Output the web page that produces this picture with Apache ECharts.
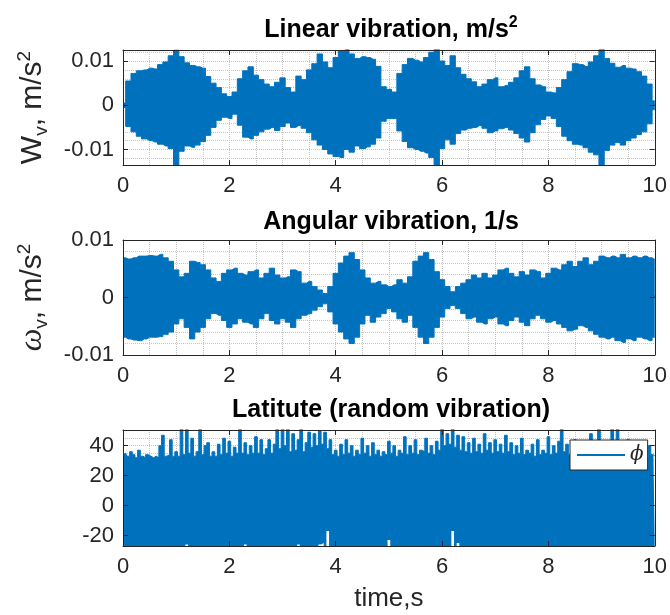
<!DOCTYPE html>
<html><head><meta charset="utf-8">
<script src="https://cdn.jsdelivr.net/npm/echarts@6/dist/echarts.min.js"></script>
<style>html,body{margin:0;padding:0;background:#fff}#c{width:670px;height:615px}</style>
</head><body><div id="c"></div>
<script>
// ---------- data (envelopes) ----------
// Linear vibration, sampled every 0.1 s from 0 to 10 s
const linUpper = [0.0005,0.0055,0.0072,0.0078,0.0080,0.0084,0.0082,0.0092,0.0098,0.0112,
  0.0125,0.0110,0.0096,0.0090,0.0087,0.0084,0.0065,0.0050,0.0040,0.0026,
  0.0020,0.0030,0.0060,0.0078,0.0087,0.0068,0.0058,0.0048,0.0042,0.0052,
  0.0062,0.0040,0.0030,0.0066,0.0058,0.0080,0.0094,0.0116,0.0098,0.0085,
  0.0108,0.0124,0.0126,0.0116,0.0106,0.0110,0.0108,0.0104,0.0088,0.0042,
  0.0036,0.0030,0.0072,0.0092,0.0106,0.0102,0.0098,0.0108,0.0120,0.0126,
  0.0100,0.0090,0.0112,0.0085,0.0070,0.0060,0.0053,0.0042,0.0048,0.0058,
  0.0062,0.0042,0.0045,0.0052,0.0062,0.0078,0.0087,0.0060,0.0046,0.0042,
  0.0030,0.0028,0.0040,0.0058,0.0076,0.0094,0.0092,0.0088,0.0098,0.0112,
  0.0126,0.0106,0.0095,0.0086,0.0090,0.0084,0.0082,0.0076,0.0066,0.0048,0.0010];
const linLower = [-0.0005,-0.0048,-0.0060,-0.0070,-0.0076,-0.0080,-0.0083,-0.0088,-0.0092,-0.0098,
  -0.0136,-0.0104,-0.0092,-0.0095,-0.0090,-0.0082,-0.0068,-0.0050,-0.0034,-0.0027,
  -0.0030,-0.0020,-0.0045,-0.0072,-0.0076,-0.0068,-0.0060,-0.0054,-0.0050,-0.0057,
  -0.0048,-0.0040,-0.0050,-0.0046,-0.0052,-0.0062,-0.0078,-0.0090,-0.0100,-0.0110,
  -0.0116,-0.0118,-0.0100,-0.0106,-0.0092,-0.0098,-0.0094,-0.0088,-0.0074,-0.0036,
  -0.0030,-0.0030,-0.0058,-0.0082,-0.0096,-0.0100,-0.0104,-0.0108,-0.0118,-0.0136,
  -0.0098,-0.0078,-0.0088,-0.0064,-0.0056,-0.0052,-0.0050,-0.0046,-0.0052,-0.0062,
  -0.0058,-0.0053,-0.0050,-0.0056,-0.0064,-0.0074,-0.0083,-0.0062,-0.0044,-0.0032,
  -0.0024,-0.0030,-0.0048,-0.0070,-0.0080,-0.0088,-0.0090,-0.0096,-0.0106,-0.0112,
  -0.0136,-0.0102,-0.0090,-0.0084,-0.0090,-0.0080,-0.0074,-0.0066,-0.0060,-0.0042,-0.0010];
// Angular vibration, sampled every 0.1 s
const angUpper = [0.0069,0.0067,0.0069,0.0072,0.0072,0.0073,0.0072,0.0075,0.0069,0.0063,
  0.0048,0.0036,0.0042,0.0063,0.0061,0.0057,0.0048,0.0034,0.0028,0.0042,
  0.0048,0.0051,0.0042,0.0039,0.0045,0.0048,0.0034,0.0042,0.0051,0.0039,
  0.0034,0.0036,0.0048,0.0045,0.0025,0.0028,0.0019,0.0013,0.0007,0.0019,
  0.0042,0.0060,0.0072,0.0078,0.0066,0.0048,0.0034,0.0025,0.0028,0.0022,
  0.0019,0.0022,0.0031,0.0025,0.0036,0.0063,0.0072,0.0078,0.0066,0.0045,
  0.0031,0.0019,0.0010,0.0019,0.0025,0.0031,0.0039,0.0034,0.0042,0.0034,
  0.0039,0.0048,0.0051,0.0042,0.0036,0.0045,0.0039,0.0048,0.0045,0.0034,
  0.0042,0.0051,0.0048,0.0057,0.0063,0.0054,0.0063,0.0069,0.0057,0.0063,
  0.0072,0.0069,0.0072,0.0069,0.0075,0.0069,0.0072,0.0069,0.0072,0.0069,0.0066];
const angLower = [-0.0069,-0.0072,-0.0074,-0.0075,-0.0072,-0.0069,-0.0069,-0.0068,-0.0064,-0.0060,
  -0.0046,-0.0037,-0.0052,-0.0072,-0.0060,-0.0052,-0.0037,-0.0028,-0.0031,-0.0040,
  -0.0052,-0.0046,-0.0037,-0.0043,-0.0046,-0.0052,-0.0037,-0.0028,-0.0040,-0.0046,
  -0.0037,-0.0043,-0.0052,-0.0037,-0.0031,-0.0028,-0.0022,-0.0016,-0.0011,-0.0025,
  -0.0046,-0.0060,-0.0072,-0.0080,-0.0069,-0.0046,-0.0031,-0.0043,-0.0034,-0.0028,
  -0.0019,-0.0025,-0.0037,-0.0043,-0.0031,-0.0052,-0.0069,-0.0080,-0.0069,-0.0052,
  -0.0034,-0.0019,-0.0014,-0.0019,-0.0028,-0.0037,-0.0034,-0.0043,-0.0046,-0.0037,
  -0.0034,-0.0046,-0.0049,-0.0040,-0.0034,-0.0043,-0.0049,-0.0037,-0.0031,-0.0037,
  -0.0043,-0.0040,-0.0046,-0.0052,-0.0058,-0.0055,-0.0049,-0.0052,-0.0058,-0.0064,
  -0.0069,-0.0072,-0.0069,-0.0075,-0.0078,-0.0072,-0.0075,-0.0069,-0.0072,-0.0075,-0.0069];
// Latitude (random vibration), sampled every 0.05 s
const latUpper = [34,35,33,36,34,32,37,33,32,34,33,32,33,32,40,47,33,34,44,33,
  36,33,51,34,51,35,45,33,36,51,34,40,42,33,36,33,41,34,45,35,
  43,33,39,35,51,35,42,34,40,35,46,35,44,34,38,44,35,41,51,38,
  51,40,51,36,48,37,44,51,36,42,49,39,48,40,50,41,49,38,44,34,
  37,33,41,34,44,35,40,33,37,34,45,35,40,33,42,34,37,33,36,34,
  43,35,40,33,37,35,46,34,40,35,44,34,37,36,45,35,40,34,43,37,
  51,40,48,41,51,39,47,37,46,36,42,35,45,36,41,35,48,37,42,35,
  44,36,41,35,47,36,42,34,40,35,45,34,37,35,41,33,44,34,37,35,
  46,34,40,35,43,51,36,41,34,37,44,33,36,34,41,35,48,34,40,51,
  35,37,34,42,51,36,51,35,40,33,44,34,36,33,42,33,35,32,40,34,33];
const latLower = [-30,-30,-30,-30,-30,-30,-30,-30,-30,-30,-30,-30,-30,-30,-30,-30,-30,-30,-30,-30,
  -30,-30,-30,-30,-26,-30,-30,-30,-30,-30,-30,-30,-30,-30,-30,-30,-30,-30,-30,-30,
  -30,-30,-30,-30,-30,-30,-26,-30,-30,-30,-30,-30,-30,-30,-30,-30,-30,-30,-30,-30,
  -30,-30,-30,-30,-30,-30,-26,-30,-30,-30,-30,-30,-30,-30,-26,-25,-30,-17,-30,-30,
  -30,-30,-30,-30,-30,-30,-30,-30,-30,-30,-30,-30,-30,-30,-30,-30,-30,-30,-30,-30,
  -23,-30,-30,-30,-30,-30,-30,-30,-30,-30,-30,-30,-30,-30,-30,-30,-30,-30,-30,-30,
  -30,-30,-30,-30,-17,-30,-25,-30,-30,-30,-30,-30,-30,-30,-30,-30,-30,-30,-30,-30,
  -30,-30,-30,-30,-30,-30,-30,-30,-30,-30,-30,-30,-30,-30,-30,-30,-30,-30,-30,-30,
  -30,-30,-30,-30,-30,-30,-30,-30,-30,-30,-30,-30,-30,-30,-30,-30,-30,-30,-30,-30,
  -30,-30,-30,-30,-30,-30,-30,-30,-30,-30,-30,-30,-30,-30,-30,-30,-30,-30,-30,-30,-30];

const xTicks = [0, 2, 4, 6, 8, 10];
const xTickLabels = ['0', '2', '4', '6', '8', '10'];
const yTicks1 = [-0.01, 0, 0.01];
const yTicks2 = [-0.01, 0, 0.01];
const yTicks3 = [-20, 0, 20, 40];
const yGrid1 = [-0.012,-0.010,-0.008,-0.006,-0.004,-0.002,0,0.002,0.004,0.006,0.008,0.010,0.012];
const yGrid2 = [-0.008,-0.006,-0.004,-0.002,0,0.002,0.004,0.006,0.008];
const yGrid3 = [-25,-20,-15,-10,-5,0,5,10,15,20,25,30,35,40,45,50];
const titles = ['{b|Linear vibration, m/s}{sup|2}', '{b|Angular vibration, 1/s}', '{b|Latitute (random vibration)}'];
const legendName = 'ϕ';

// ---------- layout ----------
const BLUE = '#0072BD', INK = '#262626', GRIDC = '#c4c4c4';
const FONT = 'Liberation Sans';
const grids = [
  {left: 123, width: 536, top: 50, height: 115},
  {left: 123, width: 536, top: 240, height: 115},
  {left: 123, width: 536, top: 430, height: 116}
];
const yCfg = [
  {min: -0.0135, max: 0.0125, ticks: yTicks1, grid: yGrid1, seam: 0.0004},
  {min: -0.01, max: 0.01, ticks: yTicks2, grid: yGrid2, seam: 0.0004},
  {min: -27, max: 50.5, ticks: yTicks3, grid: yGrid3, seam: 0}
];
const yNames = [
  '{m|W}{sub|v}{m|, m/s}{sup|2}',
  '{w|ω}{sub|v}{m|, m/s}{sup|2}',
  ''
];
const nameRich = {
  m: {fontFamily: FONT, fontSize: 30, lineHeight: 36, color: INK},
  w: {fontFamily: 'Liberation Serif', fontStyle: 'italic', fontSize: 32, lineHeight: 36, color: INK},
  sub: {fontFamily: FONT, fontSize: 19, lineHeight: 14, verticalAlign: 'bottom', color: INK},
  sup: {fontFamily: FONT, fontSize: 19, lineHeight: 14, verticalAlign: 'top', color: INK}
};

function seq(n, step) { const a = []; for (let i = 0; i < n; i++) a.push(Math.round(i * step * 100) / 100); return a; }
const t1 = seq(linUpper.length, 0.1), t2 = seq(angUpper.length, 0.1), t3 = seq(latUpper.length, 0.05);
const sets = [[t1, linUpper, linLower], [t2, angUpper, angLower], [t3, latUpper, latLower]];

const xAxis = [], yAxis = [], series = [];
const dotted = {type: 'dotted', color: GRIDC, width: 1};
grids.forEach((g, gi) => {
  const xLabel = v => { const k = xTicks.indexOf(v); return k >= 0 ? xTickLabels[k] : ''; };
  xAxis.push({gridIndex: gi, type: 'value', min: 0, max: 10, interval: 2, position: 'bottom', z: 5,
    axisLine: {onZero: false, lineStyle: {color: INK, width: 1}},
    axisTick: {inside: true, length: 5, lineStyle: {color: INK}},
    axisLabel: {fontFamily: FONT, fontSize: 22, color: INK, margin: 10, formatter: xLabel},
    splitLine: {show: false},
    name: gi === 2 ? 'time,s' : '', nameLocation: 'middle', nameGap: 40,
    nameTextStyle: {fontFamily: FONT, fontSize: 26, color: INK}});
  xAxis.push({gridIndex: gi, type: 'value', min: 0, max: 10, interval: 2, position: 'top', z: 5,
    axisLine: {onZero: false, lineStyle: {color: INK, width: 1}},
    axisTick: {inside: true, length: 5, lineStyle: {color: INK}},
    axisLabel: {show: false}, splitLine: {show: false}});
  xAxis.push({gridIndex: gi, type: 'value', min: 0, max: 10, interval: 2, z: 0,
    axisLine: {show: false}, axisTick: {show: false}, axisLabel: {show: false},
    splitLine: {show: true, lineStyle: dotted},
    minorTick: {show: false, splitNumber: 4}, minorSplitLine: {show: true, lineStyle: dotted}});

  const c = yCfg[gi];
  yAxis.push({gridIndex: gi, type: 'value', min: c.min, max: c.max, position: 'left', z: 5,
    axisLine: {onZero: false, lineStyle: {color: INK, width: 1}},
    axisTick: {inside: true, length: 5, lineStyle: {color: INK}, customValues: c.ticks},
    axisLabel: {fontFamily: FONT, fontSize: 22, color: INK, margin: 9, customValues: c.ticks},
    splitLine: {show: false},
    name: yNames[gi], nameLocation: 'middle', nameRotate: 90, nameGap: 72,
    nameTextStyle: {rich: nameRich}});
  yAxis.push({gridIndex: gi, type: 'value', min: c.min, max: c.max, position: 'right', z: 5,
    axisLine: {onZero: false, lineStyle: {color: INK, width: 1}},
    axisTick: {inside: true, length: 5, lineStyle: {color: INK}, customValues: c.ticks},
    axisLabel: {show: false, customValues: c.ticks}, splitLine: {show: false}});
  yAxis.push({gridIndex: gi, type: 'value', min: c.min, max: c.max, z: 0,
    axisLine: {show: false}, axisTick: {show: false, customValues: c.grid},
    axisLabel: {show: false, customValues: c.grid},
    splitLine: {show: true, lineStyle: dotted}});

  const [t, up, lo] = sets[gi];
  series.push({type: 'line', name: gi === 2 ? legendName : 'up' + gi, xAxisIndex: gi * 3, yAxisIndex: gi * 3,
    data: t.map((x, i) => [x, up[i]]), symbol: 'none', silent: true, color: BLUE, step: 'middle',
    lineStyle: {color: BLUE, width: 1}, areaStyle: {color: BLUE, opacity: 1, origin: gi === 2 ? 'start' : 0},
    clip: true, z: 2});
  if (gi < 2) {
    series.push({type: 'line', name: 'lo' + gi, xAxisIndex: gi * 3, yAxisIndex: gi * 3,
      data: t.map((x, i) => [x, lo[i]]), symbol: 'none', silent: true, color: BLUE, step: 'middle',
      lineStyle: {color: BLUE, width: 1}, areaStyle: {color: BLUE, opacity: 1, origin: c.seam},
      clip: true, z: 2});
  } else {
    // gaps at the bottom of the random-vibration band
    series.push({type: 'line', name: 'lo' + gi, xAxisIndex: gi * 3, yAxisIndex: gi * 3,
      data: t.map((x, i) => [x, lo[i]]), symbol: 'none', silent: true, color: '#fff', step: 'middle',
      lineStyle: {width: 0}, areaStyle: {color: '#fff', opacity: 1, origin: 'start'},
      clip: true, z: 3});
  }
});

const titleRich = {
  b: {fontFamily: FONT, fontWeight: 'bold', fontSize: 25, lineHeight: 30, color: '#000'},
  sup: {fontFamily: FONT, fontWeight: 'bold', fontSize: 16, lineHeight: 14, verticalAlign: 'top', color: '#000'}
};
const titleY = [30, 222, 410];
const graphic = titles.map((txt, i) => ({type: 'text', x: 391, y: titleY[i], z: 10,
  style: {text: txt, rich: titleRich, align: 'center', verticalAlign: 'middle'}}));

const chart = echarts.init(document.getElementById('c'), null, {renderer: 'canvas'});
chart.setOption({
  animation: false,
  backgroundColor: '#fff',
  grid: grids.map(g => Object.assign({containLabel: false}, g)),
  xAxis, yAxis, series, graphic,
  legend: {data: [legendName], left: 570, top: 440, orient: 'horizontal',
    icon: 'rect', itemWidth: 48, itemHeight: 2, itemGap: 0,
    padding: [5, 4, 5, 7], borderColor: INK, borderWidth: 1, backgroundColor: '#fff',
    textStyle: {fontFamily: 'DejaVu Serif', fontStyle: 'italic', fontSize: 20, color: INK},
    selectedMode: false}
});
</script></body></html>
